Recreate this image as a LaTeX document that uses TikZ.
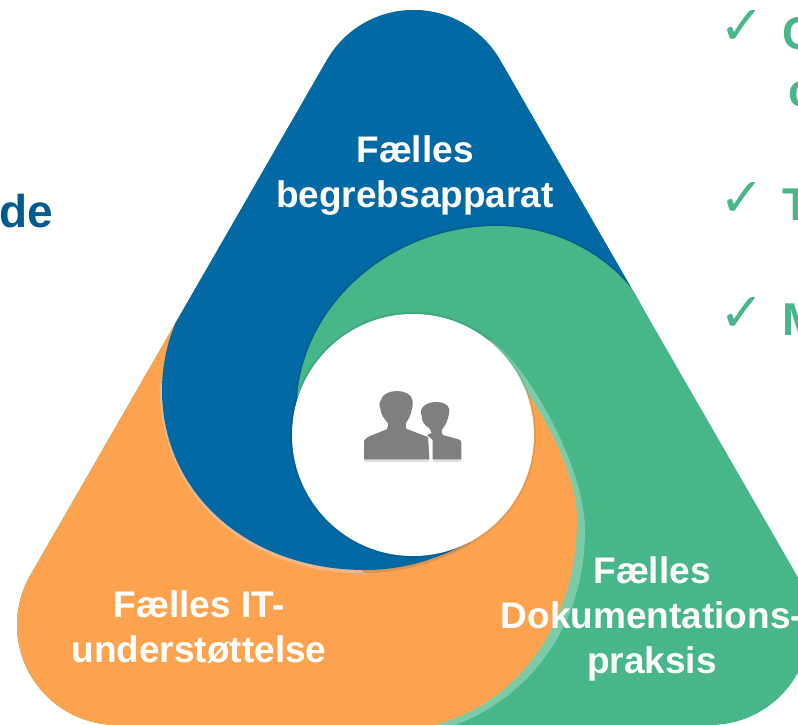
\documentclass[tikz,border=0pt]{standalone}
\usepackage{fontspec}
\setmainfont{Liberation Sans}
\newfontfamily\checkfont{DejaVu Sans}
\definecolor{blueArm}{HTML}{0369A4}
\definecolor{greenArm}{HTML}{47B688}
\definecolor{greenBand}{HTML}{7BCBA9}
\definecolor{orangeArm}{HTML}{FDA350}
\definecolor{orangeBand}{HTML}{EDB98C}
\definecolor{orangeDark}{HTML}{DC9550}
\definecolor{darkText}{HTML}{005B8E}
\definecolor{iconGrey}{HTML}{7F7F7F}
\tikzset{
  armlabel/.style={text=white,align=center,font=\fontsize{37}{45}\selectfont\bfseries},
  sidetext/.style={text=greenArm,anchor=base west,font=\fontsize{46}{50}\selectfont\bfseries},
  checkmark/.style={text=greenArm,font=\fontsize{54}{60}\checkfont},
}
\begin{document}
\begin{tikzpicture}[x=1pt,y=-1pt]
\useasboundingbox (0,0) rectangle (798,724);
% the rounded triangle holds all three arms
\begin{scope}
\clip (326.9,60) arc (210:330:100) -- (796.6,575) arc (330:450:100) -- (117,725) arc (90:210:100) -- cycle;
\fill[greenArm] (0,0) rectangle (830,740);
\fill[greenBand] (490,340) .. controls (525,362) and (585,465) .. (585,530) .. controls (585,630) and (525,705) .. (440,730) -- (400,730) -- (413,435) -- cycle;
\fill[orangeArm] (490,340) .. controls (505,360) and (577,450) .. (577,520) .. controls (577,620) and (520,705) .. (430,726) -- (430,740) -- (0,740) -- (0,500) -- (170,300) -- (413,435) -- cycle;
% edge of the blue arm on the orange
\draw[orangeBand,line width=7pt] (163,383) .. controls (162,495) and (250,570) .. (365,570);
\draw[orangeDark,line width=6pt,line cap=round] (365,570) .. controls (405,570) and (440,558) .. (467,543);
\fill[blueArm] (180,313) .. controls (170,333) and (162,360) .. (162,390) .. controls (162,495) and (250,570) .. (365,570) .. controls (405,570) and (440,558) .. (467,543) -- (413,435) -- (490,330) -- (670,297) -- (500,-5) -- (300,-5) -- cycle;
\draw[black,opacity=.12,line width=3pt] (297,397) .. controls (305,300) and (395,226) .. (497,226) .. controls (555,226) and (610,255) .. (640,300);
\fill[greenArm] (297,397) .. controls (305,300) and (395,226) .. (497,226) .. controls (555,226) and (610,255) .. (640,300) -- (670,305) -- (490,337) -- (413,435) -- cycle;
\end{scope}
% white disc in the middle
\draw[black,opacity=.08,line width=4pt] (413,435) circle (121);
\fill[white] (413,435) circle (121);
% people icon
\begin{scope}[shift={(0,3)},opacity=.13]
\fill[black,rounded corners=2pt] (364,459) -- (364,441) -- (370,436) -- (429,438) -- (429,459) -- cycle;
\fill[black,rounded corners=2pt] (433,459) -- (433,440) -- (443,435) -- (460,440) -- (461,459) -- cycle;
\end{scope}
\fill[iconGrey] (364,459.3) -- (364,441) .. controls (366,438) and (368,437) .. (370,436) -- (386.7,429.3) .. controls (388,427) and (388.5,425) .. (388,423) .. controls (384,419) and (381,414) .. (380.7,410) .. controls (379,406) and (379,402) .. (381,400) .. controls (382,394) and (390,391) .. (397,391) .. controls (404,391) and (412,394) .. (412.7,401) .. controls (413,404) and (412.5,407) .. (411.7,410) .. controls (411,415) and (408,420) .. (406,423) .. controls (405.5,426) and (406,428) .. (406.7,429) -- (428,437) -- (429.3,459.3) -- cycle;
\fill[iconGrey] (432.7,459.3) -- (432.7,440) -- (427,435) -- (431.7,433) .. controls (431,431) and (430,429) .. (429,428) .. controls (424,425) and (421.7,421) .. (421.7,416) .. controls (420,412) and (421,408) .. (424,406) .. controls (427,403) and (432,402) .. (436.7,402) .. controls (442,402) and (448,404) .. (449.3,409) .. controls (449.5,412) and (449,415) .. (448,418) .. controls (447,423) and (444,427) .. (441.7,430) .. controls (441.5,432) and (442,434) .. (443,435) -- (459,439.5) .. controls (460.5,440) and (461.3,441) .. (461.3,443) -- (461.3,459.3) -- cycle;
% labels
\node[armlabel] (begreb) at (415,176) {Fælles\\begrebsapparat};
\node[armlabel] (itstotte) at (199,627) {Fælles IT-\\understøttelse};
\node[armlabel] (dokument) at (652,619) {Fælles\\Dokumentations-\\praksis};
% text running off both sides
\node[text=darkText,anchor=base east,font=\fontsize{46}{50}\selectfont\bfseries] (venstre) at (57,227) {de};
\node[checkmark] (check1) at (742,27) {✓};
\node[checkmark] (check2) at (742,199) {✓};
\node[checkmark] (check3) at (742,314) {✓};
\node[sidetext,inner sep=0pt] (punkt1) at (782,49) {C};
\node[sidetext,inner sep=0pt] (punkt1b) at (788,106) {c};
\node[sidetext,inner sep=0pt] (punkt2) at (782,220) {T};
\node[sidetext,inner sep=0pt] (punkt3) at (782,335) {M};
\end{tikzpicture}
\end{document}
